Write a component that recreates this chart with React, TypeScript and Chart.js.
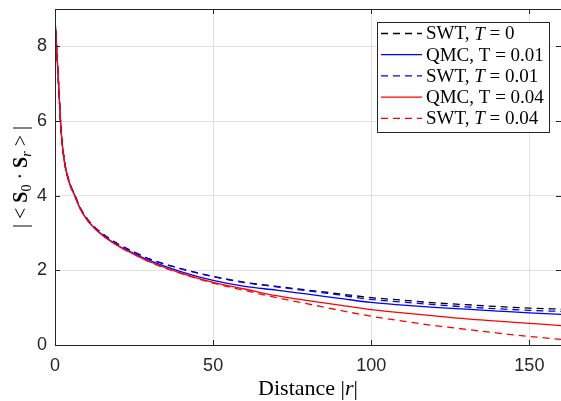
import React, { useEffect, useRef } from "react";
import { Chart, registerables } from "chart.js";

Chart.register(...registerables);

// ---------- data ----------
const distances = [0, 1, 2, 3, 4, 5, 6, 8, 10, 12, 15, 20, 25, 30, 40, 50, 60, 70, 80, 90, 100, 110, 120, 130, 140, 150, 160];

const swtT0 = [8.75, 7.2, 5.66, 4.92, 4.52, 4.25, 4.07, 3.67, 3.4, 3.2, 2.98, 2.7, 2.49, 2.3, 2.04, 1.84, 1.68, 1.57, 1.47, 1.37, 1.27, 1.2, 1.13, 1.08, 1.03, 0.99, 0.96];
const qmcT001 = [8.75, 7.2, 5.66, 4.9, 4.5, 4.23, 4.05, 3.65, 3.37, 3.17, 2.95, 2.66, 2.45, 2.26, 1.96, 1.73, 1.57, 1.47, 1.36, 1.25, 1.14, 1.07, 1.01, 0.96, 0.91, 0.86, 0.82];
const swtT001 = [8.75, 7.2, 5.66, 4.92, 4.52, 4.25, 4.07, 3.67, 3.4, 3.2, 2.98, 2.7, 2.49, 2.3, 2.04, 1.83, 1.67, 1.56, 1.45, 1.34, 1.22, 1.15, 1.08, 1.02, 0.97, 0.93, 0.9];
const qmcT004 = [8.75, 7.2, 5.66, 4.9, 4.5, 4.23, 4.05, 3.65, 3.37, 3.17, 2.94, 2.65, 2.43, 2.23, 1.92, 1.68, 1.5, 1.32, 1.19, 1.07, 0.95, 0.86, 0.78, 0.7, 0.64, 0.58, 0.52];
const swtT004 = [8.75, 7.2, 5.66, 4.9, 4.5, 4.23, 4.05, 3.65, 3.37, 3.17, 2.94, 2.65, 2.43, 2.22, 1.91, 1.66, 1.46, 1.27, 1.1, 0.93, 0.77, 0.64, 0.52, 0.42, 0.32, 0.23, 0.15];

const seriesLabels = ["SWT, $T$ = 0", "QMC, T = 0.01", "SWT, $T$ = 0.01", "QMC, T = 0.04", "SWT, $T$ = 0.04"];
const seriesColors = ["#000000", "#0000ff", "#0000ff", "#ff0000", "#ff0000"];
const seriesDashed = [true, false, true, false, true];

const xTicks = [0, 50, 100, 150];
const yTicks = [0, 2, 4, 6, 8];
const xAxisLabel = "Distance |$r$|";

type Seg = { text: string; style?: "normal" | "italic" | "bold"; sub?: boolean };
const yAxisLabelParts: Seg[] = [
  { text: "| < " },
  { text: "S", style: "bold" },
  { text: "0", sub: true },
  { text: " · " },
  { text: "S", style: "bold" },
  { text: "r", style: "italic", sub: true },
  { text: " > |" },
];

// ---------- helpers ----------
const SERIF = '"Liberation Serif", "Times New Roman", serif';
const SANS = '"Liberation Sans", Arial, Helvetica, sans-serif';
const AXIS_COLOR = "#262626";

function parseRich(s: string): Seg[] {
  const parts = s.split("$");
  return parts
    .map((t, i) => ({ text: t, style: (i % 2 === 1 ? "italic" : "normal") as Seg["style"] }))
    .filter((p) => p.text.length > 0);
}

function drawRich(ctx: CanvasRenderingContext2D, segs: Seg[], x: number, y: number, size: number, align: "left" | "center") {
  const fonts = segs.map((s) => {
    const sz = s.sub ? size * 0.7 : size;
    const st = s.style === "italic" ? "italic " : s.style === "bold" ? "bold " : "";
    return `${st}${sz}px ${SERIF}`;
  });
  const widths = segs.map((s, i) => {
    ctx.font = fonts[i];
    return ctx.measureText(s.text).width;
  });
  const total = widths.reduce((a, b) => a + b, 0);
  let cx = align === "center" ? x - total / 2 : x;
  ctx.textAlign = "left";
  segs.forEach((s, i) => {
    ctx.font = fonts[i];
    ctx.fillText(s.text, cx, y + (s.sub ? size * 0.2 : 0));
    cx += widths[i];
  });
}

const decorPlugin = {
  id: "decor",
  afterDraw(chart: any) {
    const ctx: CanvasRenderingContext2D = chart.ctx;
    const { left, right, top, bottom } = chart.chartArea;
    const xs = chart.scales.x;
    const ys = chart.scales.y;
    ctx.save();
    // box
    ctx.strokeStyle = AXIS_COLOR;
    ctx.lineWidth = 1;
    ctx.beginPath();
    ctx.moveTo(Math.round(left) + 0.5, Math.round(top) + 0.5);
    ctx.lineTo(Math.round(left) + 0.5, Math.round(bottom) + 0.5);
    ctx.lineTo(Math.round(right) + 0.5, Math.round(bottom) + 0.5);
    ctx.lineTo(Math.round(right) + 0.5, Math.round(top) + 0.5);
    ctx.closePath();
    ctx.stroke();
    // inward ticks
    const tl = 5;
    ctx.beginPath();
    xTicks.forEach((v) => {
      const px = Math.round(xs.getPixelForValue(v)) + 0.5;
      ctx.moveTo(px, bottom);
      ctx.lineTo(px, bottom - tl);
      ctx.moveTo(px, top);
      ctx.lineTo(px, top + tl);
    });
    yTicks.forEach((v) => {
      const py = Math.round(ys.getPixelForValue(v)) + 0.5;
      ctx.moveTo(left, py);
      ctx.lineTo(left + tl, py);
      ctx.moveTo(right, py);
      ctx.lineTo(right - tl, py);
    });
    ctx.stroke();

    // axis titles
    ctx.fillStyle = "#000";
    ctx.textBaseline = "alphabetic";
    drawRich(ctx, parseRich(xAxisLabel), (left + right) / 2, 395, 22, "center");
    ctx.save();
    ctx.translate(21, (top + bottom) / 2);
    ctx.rotate(-Math.PI / 2);
    drawRich(ctx, yAxisLabelParts, 0, 6, 20, "center");
    ctx.restore();

    // legend
    const bx = 377.5, by = 22.5, bw = 172, bh = 110;
    ctx.fillStyle = "#fff";
    ctx.fillRect(bx, by, bw, bh);
    ctx.strokeStyle = AXIS_COLOR;
    ctx.lineWidth = 1;
    ctx.strokeRect(bx, by, bw, bh);
    chart.data.datasets.forEach((ds: any, i: number) => {
      const ry = 33.5 + i * 21.2;
      ctx.save();
      ctx.strokeStyle = ds.borderColor;
      ctx.lineWidth = ds.borderWidth;
      ctx.setLineDash(ds.borderDash || []);
      ctx.beginPath();
      ctx.moveTo(381, ry);
      ctx.lineTo(422, ry);
      ctx.stroke();
      ctx.restore();
      ctx.fillStyle = "#000";
      ctx.textBaseline = "middle";
      drawRich(ctx, parseRich(ds.label), 426, ry + 1, 19, "left");
    });
    ctx.restore();
  },
};

export default function App() {
  const ref = useRef<HTMLCanvasElement | null>(null);
  useEffect(() => {
    if (!ref.current) return;
    const series = [swtT0, qmcT001, swtT001, qmcT004, swtT004];
    const chart = new Chart(ref.current, {
      type: "line",
      data: {
        datasets: series.map((arr, i) => ({
          label: seriesLabels[i],
          data: distances.map((d, j) => ({ x: d, y: arr[j] })),
          borderColor: seriesColors[i],
          backgroundColor: seriesColors[i],
          borderDash: seriesDashed[i] ? [7, 5] : [],
          borderWidth: 1.3,
          pointRadius: 0,
          fill: false,
          cubicInterpolationMode: "monotone" as const,
          order: series.length - i,
        })),
      },
      options: {
        animation: false,
        responsive: false,
        maintainAspectRatio: false,
        layout: { padding: { top: 9, left: 0, right: 0, bottom: 0 } },
        plugins: { legend: { display: false }, tooltip: { enabled: false } },
        scales: {
          x: {
            type: "linear",
            min: 0,
            max: 160,
            afterFit: (s: any) => {
              s.height = 56;
              s.paddingLeft = 0;
              s.paddingRight = 0;
            },
            afterBuildTicks: (s: any) => {
              s.ticks = xTicks.map((v) => ({ value: v }));
            },
            ticks: { padding: 10, color: AXIS_COLOR, font: { family: SANS, size: 18 } },
            grid: { color: "#e2e2e2", lineWidth: 1, drawTicks: false },
            border: { display: false },
          },
          y: {
            type: "linear",
            min: 0,
            max: 9,
            afterFit: (s: any) => {
              s.width = 55;
              s.paddingTop = 0;
              s.paddingBottom = 0;
            },
            afterBuildTicks: (s: any) => {
              s.ticks = yTicks.map((v) => ({ value: v }));
            },
            ticks: { padding: 8, color: AXIS_COLOR, font: { family: SANS, size: 18 } },
            grid: { color: "#e2e2e2", lineWidth: 1, drawTicks: false },
            border: { display: false },
          },
        },
      },
      plugins: [decorPlugin],
    });
    return () => chart.destroy();
  }, []);
  return (
    <div style={{ position: "absolute", left: 0, top: 0, width: 561, height: 401, background: "#fff" }}>
      <canvas ref={ref} width={561} height={401} style={{ width: 561, height: 401, display: "block" }} />
    </div>
  );
}
